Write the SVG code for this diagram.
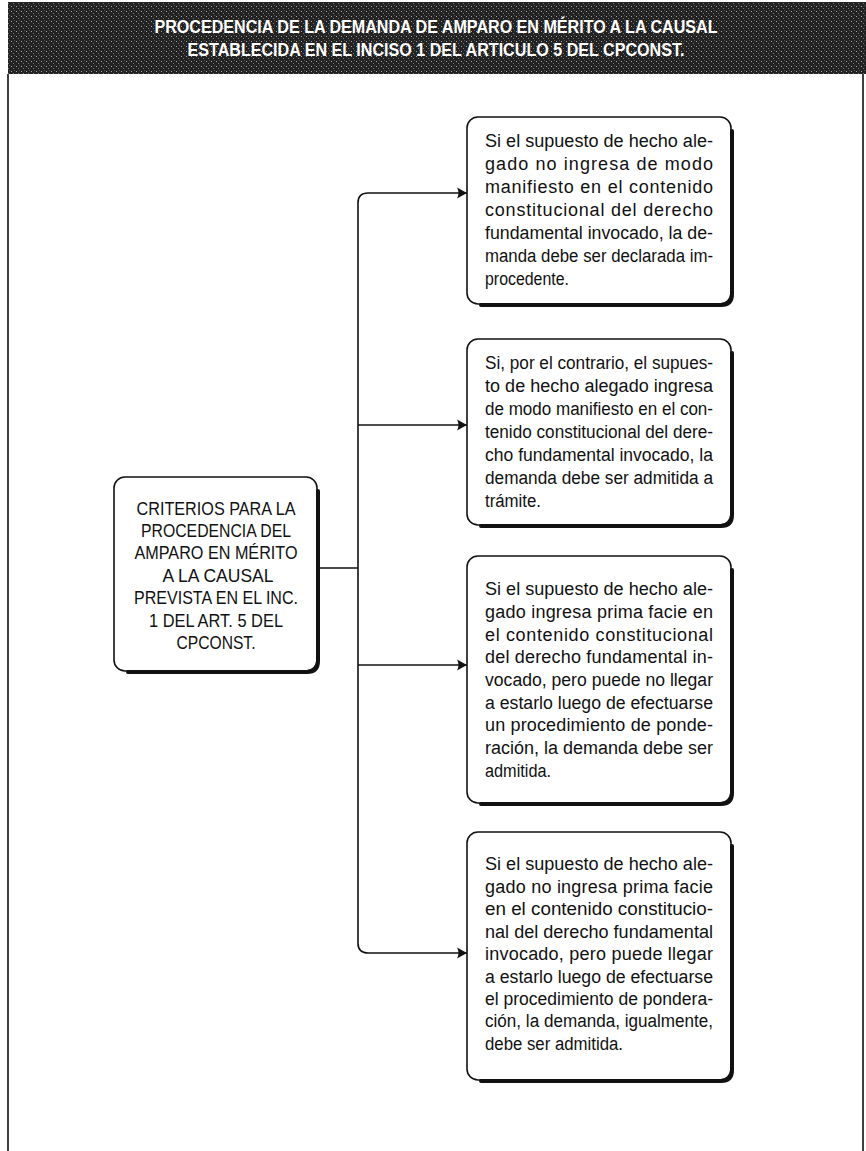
<svg xmlns="http://www.w3.org/2000/svg" width="866" height="1151" viewBox="0 0 866 1151">
<defs>
<pattern id="speckle" width="5" height="5" patternUnits="userSpaceOnUse">
<rect width="5" height="5" fill="#222"/>
<rect x="1" y="1" width="1" height="1" fill="#a8a8a8"/>
<rect x="3" y="3" width="1" height="1" fill="#777"/>
<rect x="4" y="0" width="1" height="1" fill="#555"/>
</pattern>
<marker id="arr" markerUnits="userSpaceOnUse" markerWidth="12" markerHeight="14" refX="10" refY="7" orient="auto">
<path d="M0,1.5 Q3,7 0,12.5 L10,7 Z" fill="#111"/>
</marker>
</defs>
<style>
.frame{fill:none;stroke:#111;stroke-width:1.6}
.box{fill:#fff;stroke:#111;stroke-width:1.6}
.shadow{fill:none;stroke:#111;stroke-width:4;stroke-linecap:round}
.conn{fill:none;stroke:#111;stroke-width:1.6}
.title{font-family:"Liberation Sans",Arial,sans-serif;font-size:18px;font-weight:bold;fill:#fff;text-anchor:middle}
.node{font-family:"Liberation Sans",Arial,sans-serif;font-size:18px;fill:#111;text-anchor:middle}
.body{font-family:"Liberation Sans",Arial,sans-serif;font-size:18px;fill:#111}
</style>
<rect width="866" height="1151" fill="#fff"/>
<g id="header">
<rect x="8" y="2" width="858" height="72" fill="url(#speckle)"/>
<text class="title" x="436" y="33" textLength="563" lengthAdjust="spacingAndGlyphs">PROCEDENCIA DE LA DEMANDA DE AMPARO EN MÉRITO A LA CAUSAL</text>
<text class="title" x="436" y="56" textLength="497" lengthAdjust="spacingAndGlyphs">ESTABLECIDA EN EL INCISO 1 DEL ARTICULO 5 DEL CPCONST.</text>
</g>
<g id="frame">
<path class="frame" d="M8,74 V1151 M863,74 V1151"/>
</g>
<g id="connectors">
<path class="conn" d="M318,568 H358"/>
<path class="conn" d="M358,568 V203 Q358,193 368,193 H467" marker-end="url(#arr)"/>
<path class="conn" d="M358,425 H467" marker-end="url(#arr)"/>
<path class="conn" d="M358,665 H467" marker-end="url(#arr)"/>
<path class="conn" d="M358,568 V943 Q358,953 368,953 H467" marker-end="url(#arr)"/>
</g>
<g id="node-criterios">
<rect class="box" x="114" y="477" width="203" height="194" rx="11"/>
<path class="shadow" d="M318,491 V661 Q318,672 307,672 H128"/>
<text class="node" x="216" y="515" textLength="159" lengthAdjust="spacingAndGlyphs">CRITERIOS PARA LA</text>
<text class="node" x="216" y="537" textLength="150" lengthAdjust="spacingAndGlyphs">PROCEDENCIA DEL</text>
<text class="node" x="216" y="559" textLength="163" lengthAdjust="spacingAndGlyphs">AMPARO EN MÉRITO</text>
<text class="node" x="218" y="582" textLength="111" lengthAdjust="spacingAndGlyphs">A LA CAUSAL</text>
<text class="node" x="216" y="604" textLength="164" lengthAdjust="spacingAndGlyphs">PREVISTA EN EL INC.</text>
<text class="node" x="216" y="627" textLength="134" lengthAdjust="spacingAndGlyphs">1 DEL ART. 5 DEL</text>
<text class="node" x="216" y="649" textLength="79" lengthAdjust="spacingAndGlyphs">CPCONST.</text>
</g>
<g id="node-1">
<rect class="box" x="467" y="117" width="264" height="187" rx="11"/>
<path class="shadow" d="M732,131 V294 Q732,305 721,305 H481"/>
<text class="body" x="485" y="147" textLength="228" lengthAdjust="spacingAndGlyphs">Si el supuesto de hecho ale-</text>
<text class="body" x="485" y="170" textLength="228" lengthAdjust="spacing">gado no ingresa de modo</text>
<text class="body" x="485" y="193" textLength="228" lengthAdjust="spacing">manifiesto en el contenido</text>
<text class="body" x="485" y="216" textLength="228" lengthAdjust="spacing">constitucional del derecho</text>
<text class="body" x="485" y="239" textLength="228" lengthAdjust="spacingAndGlyphs">fundamental invocado, la de-</text>
<text class="body" x="485" y="262" textLength="228" lengthAdjust="spacingAndGlyphs">manda debe ser declarada im-</text>
<text class="body" x="485" y="285" textLength="84" lengthAdjust="spacingAndGlyphs">procedente.</text>
</g>
<g id="node-2">
<rect class="box" x="467" y="339" width="264" height="186" rx="11"/>
<path class="shadow" d="M732,353 V515 Q732,526 721,526 H481"/>
<text class="body" x="485" y="369" textLength="228" lengthAdjust="spacingAndGlyphs">Si, por el contrario, el supues-</text>
<text class="body" x="485" y="392" textLength="228" lengthAdjust="spacing">to de hecho alegado ingresa</text>
<text class="body" x="485" y="415" textLength="228" lengthAdjust="spacingAndGlyphs">de modo manifiesto en el con-</text>
<text class="body" x="485" y="438" textLength="228" lengthAdjust="spacingAndGlyphs">tenido constitucional del dere-</text>
<text class="body" x="485" y="461" textLength="228" lengthAdjust="spacingAndGlyphs">cho fundamental invocado, la</text>
<text class="body" x="485" y="484" textLength="228" lengthAdjust="spacingAndGlyphs">demanda debe ser admitida a</text>
<text class="body" x="485" y="507" textLength="56" lengthAdjust="spacingAndGlyphs">trámite.</text>
</g>
<g id="node-3">
<rect class="box" x="467" y="556" width="264" height="247" rx="11"/>
<path class="shadow" d="M732,570 V793 Q732,804 721,804 H481"/>
<text class="body" x="485" y="595" textLength="228" lengthAdjust="spacingAndGlyphs">Si el supuesto de hecho ale-</text>
<text class="body" x="485" y="618" textLength="228" lengthAdjust="spacing">gado ingresa prima facie en</text>
<text class="body" x="485" y="641" textLength="228" lengthAdjust="spacing">el contenido constitucional</text>
<text class="body" x="485" y="663" textLength="228" lengthAdjust="spacing">del derecho fundamental in-</text>
<text class="body" x="485" y="686" textLength="228" lengthAdjust="spacingAndGlyphs">vocado, pero puede no llegar</text>
<text class="body" x="485" y="709" textLength="228" lengthAdjust="spacingAndGlyphs">a estarlo luego de efectuarse</text>
<text class="body" x="485" y="731" textLength="228" lengthAdjust="spacing">un procedimiento de ponde-</text>
<text class="body" x="485" y="754" textLength="228" lengthAdjust="spacingAndGlyphs">ración, la demanda debe ser</text>
<text class="body" x="485" y="777" textLength="66" lengthAdjust="spacingAndGlyphs">admitida.</text>
</g>
<g id="node-4">
<rect class="box" x="467" y="832" width="264" height="248" rx="11"/>
<path class="shadow" d="M732,846 V1070 Q732,1081 721,1081 H481"/>
<text class="body" x="485" y="870" textLength="228" lengthAdjust="spacingAndGlyphs">Si el supuesto de hecho ale-</text>
<text class="body" x="485" y="893" textLength="228" lengthAdjust="spacing">gado no ingresa prima facie</text>
<text class="body" x="485" y="915" textLength="228" lengthAdjust="spacingAndGlyphs">en el contenido constitucio-</text>
<text class="body" x="485" y="938" textLength="228" lengthAdjust="spacingAndGlyphs">nal del derecho fundamental</text>
<text class="body" x="485" y="960" textLength="228" lengthAdjust="spacing">invocado, pero puede llegar</text>
<text class="body" x="485" y="983" textLength="228" lengthAdjust="spacingAndGlyphs">a estarlo luego de efectuarse</text>
<text class="body" x="485" y="1005" textLength="228" lengthAdjust="spacingAndGlyphs">el procedimiento de pondera-</text>
<text class="body" x="485" y="1027" textLength="228" lengthAdjust="spacingAndGlyphs">ción, la demanda, igualmente,</text>
<text class="body" x="485" y="1050" textLength="138" lengthAdjust="spacingAndGlyphs">debe ser admitida.</text>
</g>
</svg>
